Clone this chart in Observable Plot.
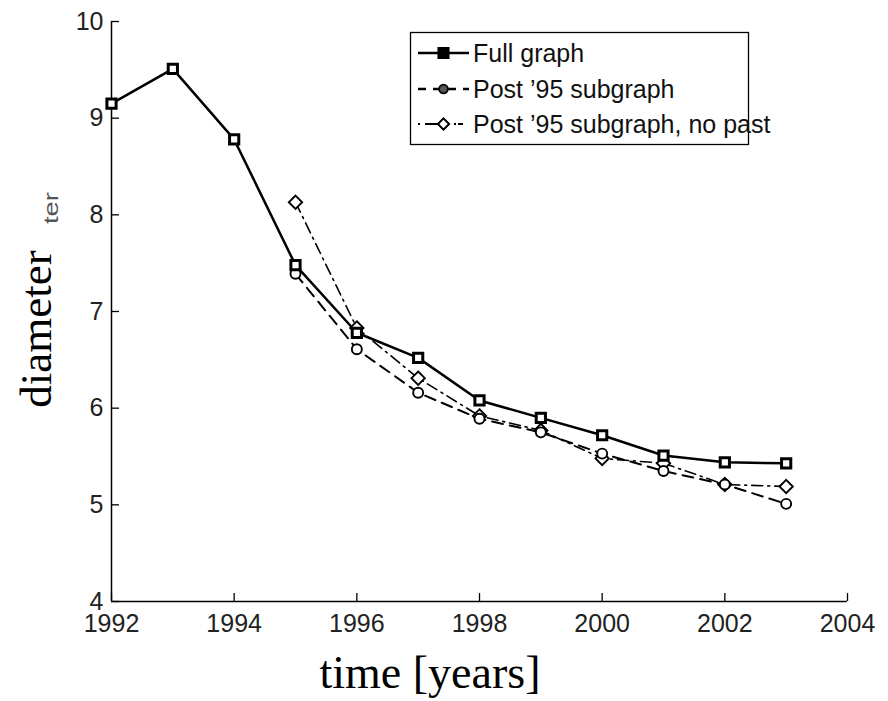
<!DOCTYPE html>
<html>
<head>
<meta charset="utf-8">
<script src="https://cdn.jsdelivr.net/npm/d3@7"></script>
<script src="https://cdn.jsdelivr.net/npm/@observablehq/plot@0.6"></script>
<style>
  html, body { margin: 0; padding: 0; background: #fff; }
  #chart { width: 888px; height: 701px; }
</style>
</head>
<body>
<div id="chart"></div>
<script>
const years = [1992, 1993, 1994, 1995, 1996, 1997, 1998, 1999, 2000, 2001, 2002, 2003];
const fullGraph = [9.15, 9.51, 8.78, 7.48, 6.78, 6.52, 6.08, 5.90, 5.72, 5.51, 5.44, 5.43];
const postYears = [1995, 1996, 1997, 1998, 1999, 2000, 2001, 2002, 2003];
const post95 = [7.39, 6.61, 6.16, 5.89, 5.75, 5.53, 5.35, 5.21, 5.01];
const post95NoPast = [8.13, 6.83, 6.31, 5.92, 5.77, 5.48, 5.43, 5.21, 5.19];
const xTicks = [1992, 1994, 1996, 1998, 2000, 2002, 2004];
const yTicks = [4, 5, 6, 7, 8, 9, 10];
const seriesNames = ["Full graph", "Post \u201995 subgraph", "Post \u201995 subgraph, no past"];
const xLabel = "time [years]";
const yLabel = "diameter";
const strayLabel = "ter";

const full = years.map((x, i) => ({x, y: fullGraph[i]}));
const sub = postYears.map((x, i) => ({x, y: post95[i]}));
const noPast = postYears.map((x, i) => ({x, y: post95NoPast[i]}));

const chart = Plot.plot({
  width: 888,
  height: 701,
  marginLeft: 111,
  marginRight: 41,
  marginTop: 21,
  marginBottom: 100,
  style: {fontFamily: "'Liberation Sans', Arial, sans-serif", fontSize: "25px", color: "#000", background: "#fff"},
  x: {domain: [1992, 2004]},
  y: {domain: [4, 10]},
  marks: [
    Plot.axisX({ticks: xTicks, tickFormat: d => String(d), tickSize: -8, tickPadding: 21, label: null, fill: "#222", strokeWidth: 1.3}),
    Plot.axisY({ticks: yTicks, tickFormat: d => String(d), tickSize: -8, tickPadding: 16, label: null, fill: "#222", strokeWidth: 1.3}),
    Plot.ruleX([1992], {stroke: "#000", strokeWidth: 1.5}),
    Plot.ruleY([4], {stroke: "#000", strokeWidth: 1.5}),
    Plot.line(noPast, {x: "x", y: "y", stroke: "#000", strokeWidth: 1.6, strokeDasharray: "11,5,2,5"}),
    Plot.line(sub, {x: "x", y: "y", stroke: "#000", strokeWidth: 2, strokeDasharray: "11,7"}),
    Plot.line(full, {x: "x", y: "y", stroke: "#000", strokeWidth: 2.5}),
    Plot.dot(noPast, {x: "x", y: "y", symbol: "diamond2", r: 6, stroke: "#000", strokeWidth: 1.9, fill: "#fff"}),
    Plot.dot(sub, {x: "x", y: "y", symbol: "circle", r: 5, stroke: "#000", strokeWidth: 1.9, fill: "#fff"}),
    Plot.dot(full, {x: "x", y: "y", symbol: "square", r: 5.2, stroke: "#000", strokeWidth: 3, fill: "#fff"})
  ]
});
document.getElementById("chart").appendChild(chart);

const svg = d3.select(chart);

// Axis titles
svg.append("text").attr("x", 430).attr("y", 688).attr("text-anchor", "middle")
  .attr("font-family", "'Liberation Serif', 'Times New Roman', serif").attr("font-size", 46)
  .attr("fill", "#000").text(xLabel);
svg.append("text").attr("transform", "translate(51,329) rotate(-90)").attr("text-anchor", "middle")
  .attr("font-family", "'Liberation Serif', 'Times New Roman', serif").attr("font-size", 45)
  .attr("fill", "#000").text(yLabel);
svg.append("text").attr("transform", "translate(58,208) rotate(-90)").attr("text-anchor", "middle")
  .attr("font-family", "'Liberation Sans', Arial, sans-serif").attr("font-size", 20)
  .attr("textLength", 32).attr("lengthAdjust", "spacingAndGlyphs")
  .attr("fill", "#555").text(strayLabel);

// Legend box drawn inside the plot area
const lg = svg.append("g").attr("class", "legend");
lg.append("rect").attr("x", 410.5).attr("y", 32.5).attr("width", 338).attr("height", 112)
  .attr("fill", "#fff").attr("stroke", "#000").attr("stroke-width", 1.3);
const rows = [
  {y: 53, dash: null, width: 2.5, symbol: d3.symbolSquare, size: 90, sw: 2.6, fill: "#000"},
  {y: 89, dash: "8,7", width: 2.5, symbol: d3.symbolCircle, size: 60, sw: 1.8, fill: "#555"},
  {y: 124, dash: "2,5,24,5,2", width: 2, symbol: d3.symbolDiamond2, size: 80, sw: 2, fill: "#fff"}
];
rows.forEach((r, i) => {
  lg.append("line").attr("x1", 418).attr("x2", 469).attr("y1", r.y).attr("y2", r.y)
    .attr("stroke", "#000").attr("stroke-width", r.width).attr("stroke-dasharray", r.dash);
  lg.append("path").attr("d", d3.symbol(r.symbol, r.size)()).attr("transform", `translate(443.5,${r.y})`)
    .attr("fill", r.fill).attr("stroke", "#000").attr("stroke-width", r.sw);
  lg.append("text").attr("x", 473).attr("y", r.y).attr("dy", "0.36em").attr("font-size", 25)
    .attr("text-anchor", "start").attr("fill", "#111").text(seriesNames[i]);
});
</script>
</body>
</html>
